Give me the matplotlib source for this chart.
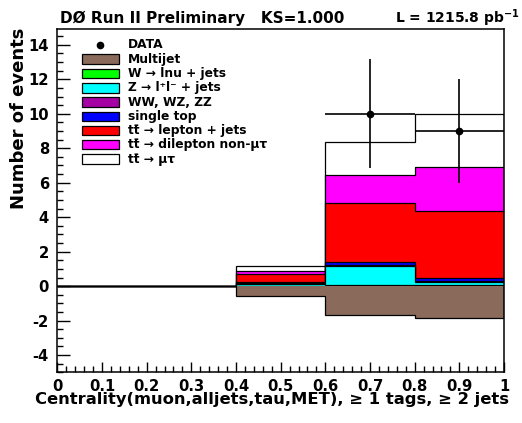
import numpy as np
import matplotlib
matplotlib.use("Agg")
import matplotlib.pyplot as plt
from matplotlib.patches import Rectangle
from matplotlib.lines import Line2D
from matplotlib.ticker import MultipleLocator

plt.rcParams['font.family'] = ['DejaVu Sans']
plt.rcParams['font.weight'] = 'bold'
plt.rcParams['axes.unicode_minus'] = False
plt.rcParams['mathtext.fontset'] = 'custom'
plt.rcParams['mathtext.rm'] = 'DejaVu Sans:bold'
plt.rcParams['mathtext.it'] = 'DejaVu Sans:bold'
plt.rcParams['mathtext.bf'] = 'DejaVu Sans:bold'

# ---- data ----
bin_edges = [0.0, 0.2, 0.4, 0.6, 0.8, 1.0]
multijet = [0.0, 0.0, -0.55, -1.68, -1.87]
wjets    = [0.0, 0.0, 0.03, 0.05, 0.05]
zjets    = [0.0, 0.0, 0.11, 1.11, 0.17]
diboson  = [0.0, 0.0, 0.03, 0.09, 0.08]
singletop= [0.0, 0.0, 0.05, 0.17, 0.18]
tt_ljets = [0.0, 0.0, 0.50, 3.41, 3.87]
tt_dilep = [0.0, 0.0, 0.18, 1.64, 2.55]
tt_mutau = [0.0, 0.0, 0.25, 1.87, 3.10]
data_x   = [0.7, 0.9]
data_y   = [10, 9]
data_err = [3.16, 3.0]
data_xerr = [0.1, 0.1]

labels = ['DATA', 'Multijet', 'W → lnu + jets', 'Z → l\u207al\u207b + jets',
          'WW, WZ, ZZ', 'single top', 'tt\u0304 → lepton + jets',
          'tt\u0304 → dilepton non-μτ', 'tt\u0304 → μτ']
colors = ['#8a6b5b', '#00ff00', '#00ffff', '#a400a4', '#0000ff', '#ff0000', '#ff00ff', '#ffffff']

W, H = 522, 423
fig = plt.figure(figsize=(W/100, H/100), dpi=100)
ax = fig.add_axes([57.3/W, 1-372.3/H, (504-57.3)/W, (372.3-29.3)/H])

edges = np.array(bin_edges)
positive = [wjets, zjets, diboson, singletop, tt_ljets, tt_dilep, tt_mutau]
cums = np.cumsum(np.array(positive), axis=0)
for k in range(len(positive)-1, -1, -1):
    ax.stairs(cums[k], edges, baseline=0, fill=True, facecolor=colors[k+1],
              edgecolor='none', zorder=2)
    ax.stairs(cums[k], edges, baseline=0, fill=False, color='black', lw=0.9, zorder=2)
ax.stairs(np.array(multijet), edges, baseline=0, fill=True, facecolor=colors[0],
          edgecolor='none', zorder=2)
ax.stairs(np.array(multijet), edges, baseline=0, fill=False, color='black', lw=0.9, zorder=2)

ax.errorbar(data_x, data_y, yerr=data_err, xerr=data_xerr, fmt='o', color='black',
            ms=4.5, elinewidth=1.2, capsize=0, zorder=5)

ax.set_xlim(0, 1)
ax.set_ylim(-5, 14.9)
ax.set_xticks(np.arange(0, 1.01, 0.1))
ax.set_xticklabels(['0', '0.1', '0.2', '0.3', '0.4', '0.5', '0.6', '0.7', '0.8', '0.9', '1'])
ax.set_yticks(np.arange(-4, 15, 2))
ax.xaxis.set_minor_locator(MultipleLocator(0.02))
ax.yaxis.set_minor_locator(MultipleLocator(0.5))
ax.tick_params(axis='x', which='major', direction='in', length=7.5, width=1, pad=4.5, labelsize=10.6)
ax.tick_params(axis='x', which='minor', direction='in', length=4, width=1)
ax.tick_params(axis='y', which='major', direction='in', length=9.5, width=1, pad=6, labelsize=10.6)
ax.tick_params(axis='y', which='minor', direction='in', length=4.5, width=1)
ax.tick_params(top=False, right=False, which='both')
for lbl in ax.get_xticklabels() + ax.get_yticklabels():
    lbl.set_fontweight('bold')
for s in ax.spines.values():
    s.set_linewidth(1.1)

def fx(x):
    return x / W

def fy(y):
    return 1 - y / H

fig.text(fx(60), fy(23.3), 'DØ Run II Preliminary   KS=1.000', fontsize=11,
         fontweight='bold', va='baseline', ha='left')
fig.text(fx(520), fy(23.3), r'L = 1215.8 pb$^{-1}$', fontsize=10,
         fontweight='bold', va='baseline', ha='right')

fig.text(fx(509), fy(404), 'Centrality(muon,alljets,tau,MET), ≥ 1 tags, ≥ 2 jets',
         fontsize=11.8, fontweight='bold', ha='right', va='baseline')
fig.text(fx(19), fy(28), 'Number of events', fontsize=13, fontweight='bold',
         rotation=90, ha='center', va='top')

# legend
row0, dy = 45.0, 14.25
bx0, bx1 = 81.7, 119.0
bh = 9.5
tx = 127.7
for i, lab in enumerate(labels):
    yc = row0 + dy * i
    if i == 0:
        fig.add_artist(Line2D([fx((bx0+bx1)/2)], [fy(yc)], marker='o', color='black',
                              ms=4.5, transform=fig.transFigure))
    else:
        fig.add_artist(Rectangle((fx(bx0), fy(yc + bh/2)), fx(bx1-bx0), bh/H,
                                 facecolor=colors[i-1], edgecolor='black', lw=0.9,
                                 transform=fig.transFigure))
    fig.text(fx(tx), fy(yc), lab, fontsize=8.8, fontweight='bold', ha='left', va='center')

fig.savefig('out.png', dpi=100)
